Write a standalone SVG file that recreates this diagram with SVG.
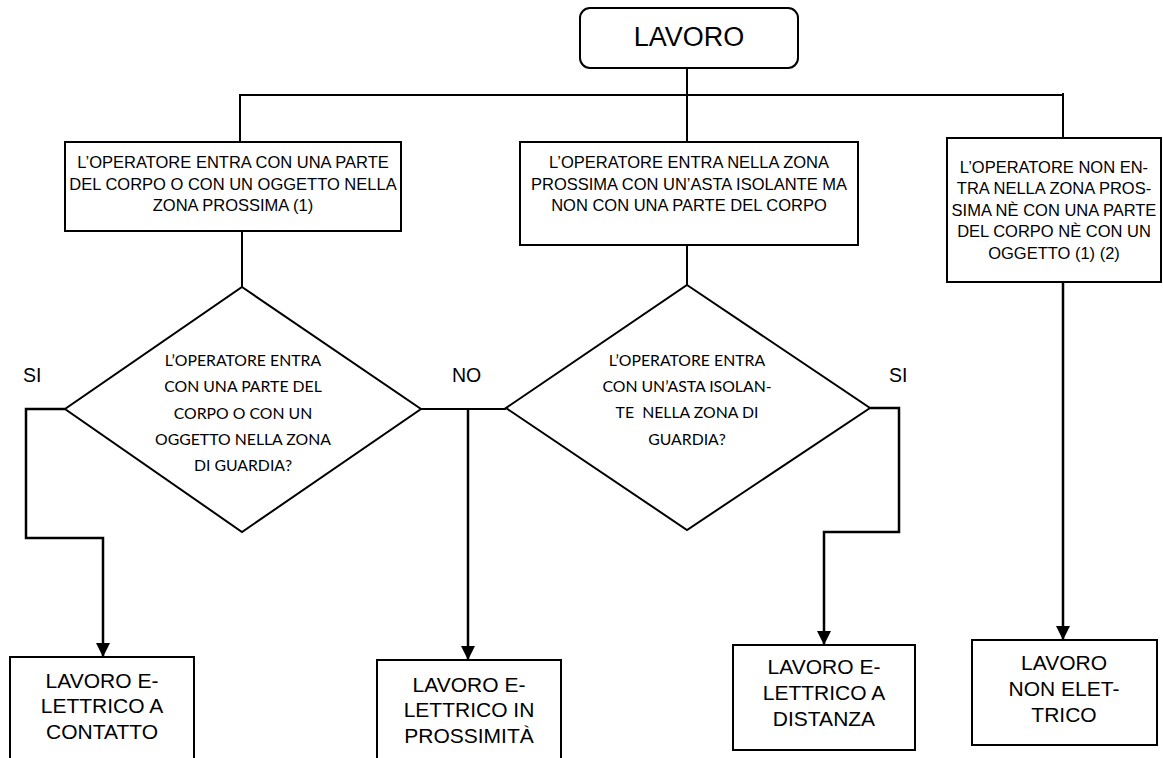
<svg xmlns="http://www.w3.org/2000/svg" width="1163" height="758" viewBox="0 0 1163 758">
  <style>
    .box { fill: #fff; stroke: #000; stroke-width: 2; }
    .wire { fill: none; stroke: #000; stroke-width: 2; }
    .arrow { fill: none; stroke: #000; stroke-width: 2.5; marker-end: url(#head); }
    .t { font-family: "Liberation Sans", Arial, sans-serif; fill: #000; text-anchor: middle; }
    .s { font-size: 16.5px; }
    .m { font-size: 21px; }
    .q { font-family: Lato, "Open Sans", sans-serif; font-size: 15.8px; fill: #000; text-anchor: middle; white-space: pre; }
    .lbl { font-family: "Liberation Sans", Arial, sans-serif; font-size: 19.5px; fill: #000; }
  </style>
  <defs>
    <marker id="head" viewBox="0 0 10 10" refX="10" refY="5" markerWidth="5.6" markerHeight="5.6" markerUnits="strokeWidth" orient="auto">
      <path d="M0,0 L10,5 L0,10 z" fill="#000"/>
    </marker>
  </defs>

  <!-- connectors -->
  <g id="connectors">
    <path class="wire" d="M687,68 V142"/>
    <path class="wire" d="M240,142 V95 H1063 V138"/>
    <path class="wire" d="M1063,93 V95"/>
    <path class="wire" d="M242,231 V287"/>
    <path class="wire" d="M687,245 V285"/>
    <path class="wire" d="M421,409 H506"/>
    <path class="arrow" d="M65,409 H26 V538 H103 V657"/>
    <path class="arrow" d="M468,409 V660"/>
    <path class="arrow" d="M870,408 H899 V532 H824 V645"/>
    <path class="arrow" d="M1063,282 V640"/>
  </g>

  <g id="root">
    <rect class="box" x="580" y="8" width="218" height="60" rx="10"/>
    <text class="t" x="689" y="46" font-size="27">LAVORO</text>
  </g>

  <g id="zone-body">
    <rect class="box" x="65" y="142" width="336" height="89"/>
    <text class="t s"><tspan x="233" y="168">L’OPERATORE ENTRA CON UNA PARTE</tspan><tspan x="233" y="190">DEL CORPO O CON UN OGGETTO NELLA</tspan><tspan x="233" y="211">ZONA PROSSIMA (1)</tspan></text>
  </g>

  <g id="zone-pole">
    <rect class="box" x="520" y="142" width="338" height="103"/>
    <text class="t s"><tspan x="689" y="168">L’OPERATORE ENTRA NELLA ZONA</tspan><tspan x="689" y="190">PROSSIMA CON UN’ASTA ISOLANTE MA</tspan><tspan x="689" y="211">NON CON UNA PARTE DEL CORPO</tspan></text>
  </g>

  <g id="zone-none">
    <rect class="box" x="947" y="138" width="214" height="144"/>
    <text class="t s"><tspan x="1054" y="173">L’OPERATORE NON EN-</tspan><tspan x="1054" y="194">TRA NELLA ZONA PROS-</tspan><tspan x="1054" y="216">SIMA NÈ CON UNA PARTE</tspan><tspan x="1054" y="237">DEL CORPO NÈ CON UN</tspan><tspan x="1054" y="259">OGGETTO (1) (2)</tspan></text>
  </g>

  <g id="question-guard-body">
    <polygon class="box" points="242,287 421,409 242,532 65,409"/>
    <text class="q"><tspan x="243" y="366">L’OPERATORE ENTRA</tspan><tspan x="243" y="392">CON UNA PARTE DEL</tspan><tspan x="243" y="419">CORPO O CON UN</tspan><tspan x="243" y="445">OGGETTO NELLA ZONA</tspan><tspan x="243" y="471">DI GUARDIA?</tspan></text>
  </g>

  <g id="question-guard-pole">
    <polygon class="box" points="687,285 870,408 687,530 506,408"/>
    <text class="q"><tspan x="687" y="366">L’OPERATORE ENTRA</tspan><tspan x="687" y="392">CON UN’ASTA ISOLAN-</tspan><tspan x="687" y="418">TE  NELLA ZONA DI</tspan><tspan x="687" y="445">GUARDIA?</tspan></text>
  </g>

  <g id="branch-labels">
    <text class="lbl" x="23" y="382">SI</text>
    <text class="lbl" x="452" y="382">NO</text>
    <text class="lbl" x="889" y="382">SI</text>
  </g>

  <g id="work-contact">
    <rect class="box" x="10" y="657" width="184" height="106"/>
    <text class="t m"><tspan x="102" y="688">LAVORO E-</tspan><tspan x="102" y="713">LETTRICO A</tspan><tspan x="102" y="739">CONTATTO</tspan></text>
  </g>

  <g id="work-proximity">
    <rect class="box" x="377" y="660" width="184" height="103"/>
    <text class="t m"><tspan x="469" y="692">LAVORO E-</tspan><tspan x="469" y="717">LETTRICO IN</tspan><tspan x="469" y="743">PROSSIMITÀ</tspan></text>
  </g>

  <g id="work-distance">
    <rect class="box" x="733" y="645" width="182" height="105"/>
    <text class="t m"><tspan x="824" y="674">LAVORO E-</tspan><tspan x="824" y="700">LETTRICO A</tspan><tspan x="824" y="726">DISTANZA</tspan></text>
  </g>

  <g id="work-non-electric">
    <rect class="box" x="972" y="640" width="185" height="105"/>
    <text class="t m"><tspan x="1064" y="670">LAVORO</tspan><tspan x="1064" y="696">NON ELET-</tspan><tspan x="1064" y="722">TRICO</tspan></text>
  </g>
</svg>
